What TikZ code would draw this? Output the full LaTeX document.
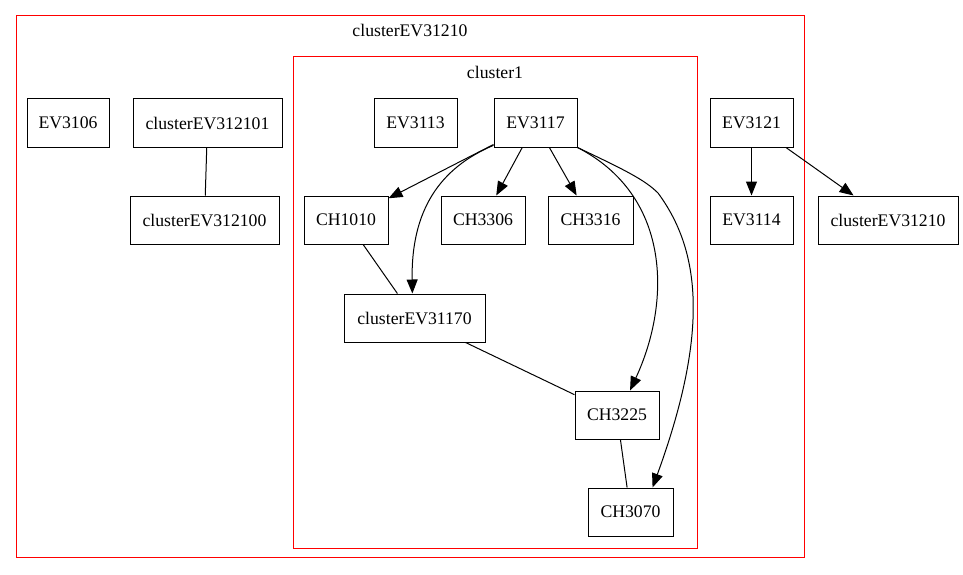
\documentclass[tikz,border=0pt]{standalone}
\usepackage{fontspec}
\setmainfont{Liberation Serif}
\usetikzlibrary{arrows.meta}

\begin{document}
\begin{tikzpicture}[x=1pt,y=-1pt,>={Triangle[length=14pt,width=11pt]},
  line width=1pt,every node/.style={font=\fontsize{17.7}{20}\selectfont},
  main node/.style={rectangle,draw,minimum height=48pt,inner sep=0pt},
  cluster box/.style={draw=red,line width=1pt}]
  \useasboundingbox (0,0) rectangle (963,575);
  % clusters
  \draw[cluster box] (16,16) rectangle (804,557);
  \node (lbl0) at (410,30) {clusterEV31210};
  \draw[cluster box] (293,57) rectangle (697,548);
  \node (lbl1) at (495,72) {cluster1};
  % nodes
  \node[main node, minimum width=82pt] (EV3106) at (68,123) {EV3106};
  \node[main node, minimum width=149pt] (EV312101) at (207.5,123) {clusterEV312101};
  \node[main node, minimum width=149pt] (EV312100) at (204.5,220) {clusterEV312100};
  \node[main node, minimum width=83pt] (EV3113) at (415.5,123) {EV3113};
  \node[main node, minimum width=83pt] (EV3117) at (535.5,123) {EV3117};
  \node[main node, minimum width=84pt] (CH1010) at (346,220) {CH1010};
  \node[main node, minimum width=84pt] (CH3306) at (483,220) {CH3306};
  \node[main node, minimum width=85pt] (CH3316) at (590.5,220) {CH3316};
  \node[main node, minimum width=141pt] (EV31170) at (414.5,318) {clusterEV31170};
  \node[main node, minimum width=84pt] (CH3225) at (617,415) {CH3225};
  \node[main node, minimum width=85pt] (CH3070) at (630.5,512) {CH3070};
  \node[main node, minimum width=83pt] (EV3121) at (751.5,123) {EV3121};
  \node[main node, minimum width=83pt] (EV3114) at (751.5,220) {EV3114};
  \node[main node, minimum width=140pt] (EV31210) at (888,220) {clusterEV31210};
  % undirected
  \path
     (EV312101) edge (EV312100)
     (CH1010) edge (EV31170)
     (EV31170) edge (CH3225)
     (CH3225) edge (CH3070);
  % directed
  \path[->]
     (EV3117) edge (CH1010)
     (EV3117) edge (CH3306)
     (EV3117) edge (CH3316)
     (EV3121) edge (EV3114)
     (EV3121) edge (EV31210);
  \draw[->] (EV3117.208) .. controls (440,168) and (411,210) .. (EV31170.95);
  \draw[->] (EV3117.south east) .. controls (670,195) and (672,300) .. (CH3225.62);
  \draw[->] (EV3117.south east) .. controls (625,170) and (645,180) .. (658,193)
     .. controls (700,250) and (710,330) .. (CH3070.48);
\end{tikzpicture}
\end{document}
